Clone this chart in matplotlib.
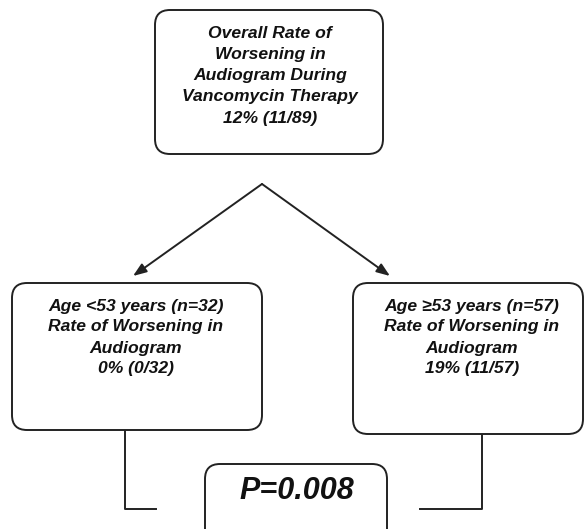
import matplotlib
matplotlib.use("Agg")
import matplotlib.pyplot as plt
from matplotlib.patches import FancyBboxPatch

top_text = ["Overall Rate of", "Worsening in", "Audiogram During", "Vancomycin Therapy", "12% (11/89)"]
left_text = ["Age <53 years (n=32)", "Rate of Worsening in", "Audiogram", "0% (0/32)"]
right_text = ["Age \u226553 years (n=57)", "Rate of Worsening in", "Audiogram", "19% (11/57)"]
p_text = "P=0.008"

W, H = 586, 529
fig = plt.figure(figsize=(W / 100, H / 100), dpi=100)
ax = fig.add_axes([0, 0, 1, 1])
ax.set_xlim(0, W)
ax.set_ylim(H, 0)
ax.axis("off")

font = dict(family="Liberation Sans", weight="bold", style="italic", color="#111111")
lw = 1.4
ec = "#222222"

def box(x0, y0, x1, y1, r=15):
    p = FancyBboxPatch((x0, y0), x1 - x0, y1 - y0,
                       boxstyle=f"round,pad=0,rounding_size={r}",
                       fc="white", ec=ec, lw=lw, zorder=2)
    ax.add_patch(p)

# boxes
box(155, 10, 383, 154)
box(12, 283, 262, 430)
box(353, 283, 583, 434)
box(205, 464, 387, 560)

def lines(texts, cx, y0, dy, size):
    for i, t in enumerate(texts):
        ax.text(cx, y0 + i * dy, t, ha="center", va="center", fontsize=size, zorder=3, **font)

lines(top_text, 270, 33, 21.3, 12.6)
lines(left_text, 136, 306, 21, 12.6)
lines(right_text, 472, 306, 21, 12.6)
ax.text(297, 491, p_text, ha="center", va="center", fontsize=22, zorder=3, **font)

# arrows
apex = (262, 184)
for tip in [(133, 276), (390, 276)]:
    ax.annotate("", xy=tip, xytext=apex,
                arrowprops=dict(arrowstyle="-|>,head_length=0.8,head_width=0.3",
                                color=ec, lw=lw, shrinkA=0, shrinkB=0), zorder=1)

# bracket lines
ax.plot([125, 125, 156], [426, 509, 509], color=ec, lw=lw, zorder=1)
ax.plot([482, 482, 420], [426, 509, 509], color=ec, lw=lw, zorder=1)

fig.savefig("out.png", dpi=100, facecolor="white")
